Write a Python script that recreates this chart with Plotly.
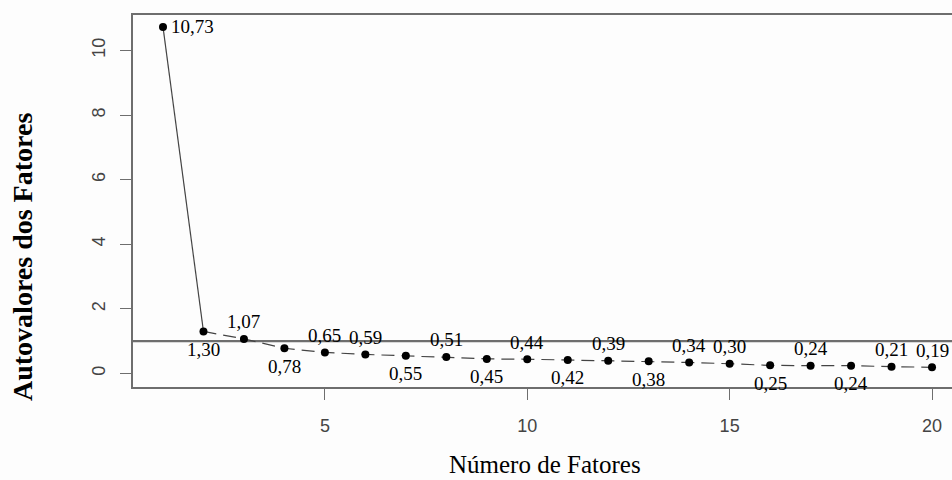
import plotly.graph_objects as go

# Scree plot: eigenvalues of the extracted factors
fatores = list(range(1, 21))
autovalores = [10.73, 1.30, 1.07, 0.78, 0.65, 0.59, 0.55, 0.51, 0.45, 0.44,
               0.42, 0.39, 0.38, 0.34, 0.30, 0.25, 0.24, 0.24, 0.21, 0.19]
# where each value label sits relative to its point
lado_rotulo = ["right", "below", "above", "below", "above", "above", "below",
               "above", "below", "above", "below", "above", "below", "above",
               "above", "below", "above", "below", "above", "above"]
kaiser = 1.0
x_ticks = [5, 10, 15, 20]
y_ticks = [0, 2, 4, 6, 8, 10]

SERIF = "Liberation Serif, Times New Roman, serif"
SANS = "Liberation Sans, Arial, sans-serif"
GRAY = "#6e6e6e"

fig = go.Figure()

# steep first segment drawn solid, the rest dashed
fig.add_trace(go.Scatter(
    x=fatores[:2], y=autovalores[:2], mode="lines",
    line=dict(color="#444444", width=1.2), hoverinfo="skip", showlegend=False))
fig.add_trace(go.Scatter(
    x=fatores[1:], y=autovalores[1:], mode="lines",
    line=dict(color="#444444", width=1.2, dash="13px,7px"),
    hoverinfo="skip", showlegend=False))
fig.add_trace(go.Scatter(
    x=fatores, y=autovalores, mode="markers",
    marker=dict(color="black", size=8), showlegend=False))

# Kaiser criterion reference line
fig.add_shape(type="line", xref="paper", x0=0, x1=1, yref="y", y0=kaiser, y1=kaiser,
              line=dict(color=GRAY, width=2.2), layer="below")

anns = []
for xv, yv, lado in zip(fatores, autovalores, lado_rotulo):
    txt = f"{yv:.2f}".replace(".", ",")
    a = dict(x=xv, y=yv, xref="x", yref="y", text=txt, showarrow=False,
             font=dict(family=SERIF, size=19, color="black"))
    if lado == "right":
        a.update(xanchor="left", yanchor="middle", xshift=6)
    elif lado == "above":
        a.update(xanchor="center", yanchor="middle", yshift=17)
    else:
        a.update(xanchor="center", yanchor="middle", yshift=-18)
    anns.append(a)

# axis titles
anns.append(dict(text="Número de Fatores", xref="paper", yref="paper", x=0.5, y=0,
                 xanchor="center", yanchor="middle", xshift=2, yshift=-77,
                 showarrow=False, font=dict(family=SERIF, size=25, color="black")))
anns.append(dict(text="<b>Autovalores dos Fatores</b>", xref="paper", yref="paper",
                 x=0, y=0.5, xanchor="center", yanchor="middle", xshift=-111,
                 yshift=-56, textangle=-90, showarrow=False,
                 font=dict(family=SERIF, size=28, color="black")))

fig.update_layout(
    width=952, height=480,
    margin=dict(l=133, r=0, t=15, b=93),
    paper_bgcolor="#fdfdfd", plot_bgcolor="#fdfdfd",
    annotations=anns,
    xaxis=dict(range=[0.259, 20.494], tickvals=x_ticks, ticks="outside", ticklen=11,
               tickwidth=1.2, tickcolor=GRAY, showgrid=False, zeroline=False,
               showline=True, mirror=True, linecolor=GRAY, linewidth=2.2,
               ticklabelstandoff=10,
               tickfont=dict(family=SANS, size=18, color="#444444")),
    yaxis=dict(range=[-0.42, 11.1], tickvals=y_ticks, ticks="outside", ticklen=11,
               tickwidth=1.2, tickcolor=GRAY, showgrid=False, zeroline=False,
               showline=True, mirror=False, linecolor=GRAY, linewidth=2.2,
               tickangle=-90, ticklabelstandoff=8,
               tickfont=dict(family=SANS, size=18, color="#444444")),
)

fig.write_html("out.html")
